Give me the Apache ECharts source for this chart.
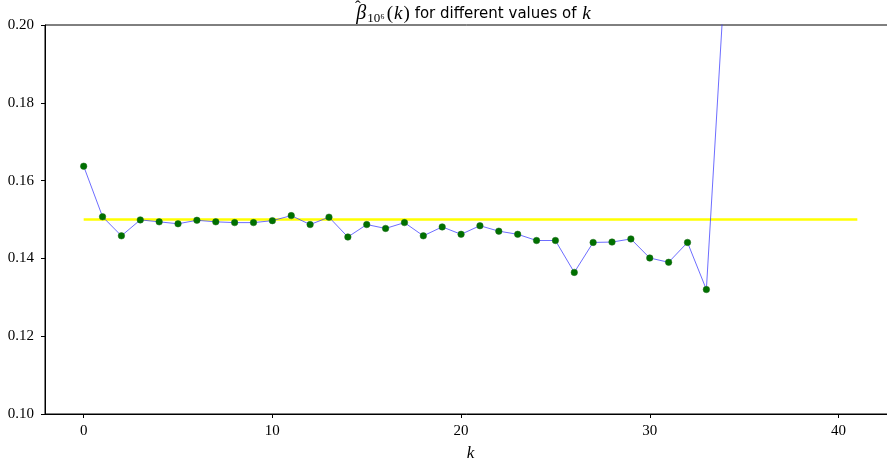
<!DOCTYPE html>
<html>
<head>
<meta charset="utf-8">
<script src="https://cdn.jsdelivr.net/npm/echarts@6/dist/echarts.min.js"></script>
<style>html,body{margin:0;padding:0;background:#fff}#c{width:887px;height:465px}</style>
</head>
<body>
<div id="c"></div>
<script>
var kValues = [0,1,2,3,4,5,6,7,8,9,10,11,12,13,14,15,16,17,18,19,20,21,22,23,24,25,26,27,28,29,30,31,32,33,34];
var betaValues = [0.1637,0.1507,0.1458,0.1499,0.1494,0.1489,0.1498,0.1494,0.1492,0.1492,0.1497,0.1510,0.1487,0.1506,0.1455,0.1487,0.1477,0.1492,0.1458,0.1481,0.1462,0.1484,0.1470,0.1462,0.1446,0.1446,0.1364,0.1441,0.1442,0.1450,0.1401,0.1390,0.1441,0.1320,0.2141];
var refK = [0, 41];
var refValue = [0.15, 0.15];
var xTicks = [0,10,20,30,40];
var yTicks = [0.10,0.12,0.14,0.16,0.18,0.20];

var chart = echarts.init(document.getElementById('c'), null, {renderer:'canvas'});
var serif = 'Liberation Serif';
chart.setOption({
  animation:false,
  backgroundColor:'#fff',
  title:{
    text:'{b|β}{s|10⁶}{p|(}{i|k}{p|)}{t| for different values of }{i|k}',
    left:469, top:-2, textAlign:'center',
    textStyle:{
      fontWeight:'normal',
      rich:{
        b:{fontFamily:serif,fontStyle:'italic',fontWeight:'normal',fontSize:20,color:'#000',padding:[0,1,0,0]},
        s:{fontFamily:serif,fontWeight:'normal',fontSize:13,color:'#000',padding:[9,2,0,0]},
        p:{fontFamily:serif,fontWeight:'normal',fontSize:19,color:'#000'},
        i:{fontFamily:serif,fontStyle:'italic',fontWeight:'normal',fontSize:19,color:'#000',padding:[0,1,0,1]},
        t:{fontFamily:'DejaVu Sans',fontWeight:'normal',fontSize:15,color:'#000'}
      }
    }
  },
  graphic:[{
    type:'text', left:355, top:-1, silent:true,
    style:{text:'ˆ', fontFamily:serif, fontSize:17, fill:'#000'}
  }],
  grid:{left:45, top:25, width:851, bottom:51, outerBoundsMode:'none', containLabel:false, show:true, borderColor:'#000', borderWidth:1, backgroundColor:'transparent'},
  xAxis:{
    type:'value', min:-2.05, max:43.05,
    name:'k', nameLocation:'middle', nameGap:31,
    nameTextStyle:{fontFamily:serif,fontStyle:'italic',fontSize:17,color:'#000'},
    axisLine:{show:true,onZero:false,lineStyle:{color:'#000',width:1}},
    axisTick:{show:true,inside:false,length:4,lineStyle:{color:'#000'},customValues:xTicks},
    axisLabel:{fontFamily:serif,fontSize:15,color:'#000',margin:10,customValues:xTicks},
    splitLine:{show:false}
  },
  yAxis:{
    type:'value', min:0.10, max:0.20,
    axisLine:{show:true,onZero:false,lineStyle:{color:'#000',width:1}},
    axisTick:{show:true,inside:false,length:4,lineStyle:{color:'#000'},customValues:yTicks},
    axisLabel:{fontFamily:serif,fontSize:15,color:'#000',margin:11,customValues:yTicks,
      formatter:function(v){return v.toFixed(2);}},
    splitLine:{show:false}
  },
  series:[
    {
      type:'line', z:1,
      data:refK.map(function(k,i){return [k, refValue[i]];}),
      symbol:'none',
      lineStyle:{color:'#ffff00',width:2.5}
    },
    {
      type:'line', z:2, clip:true,
      data:kValues.map(function(k,i){return [k, betaValues[i]];}),
      symbol:'circle', symbolSize:6.5,
      itemStyle:{color:'#007000',borderColor:'#1a6a1a',borderWidth:0.5},
      lineStyle:{color:'rgba(60,60,255,0.75)',width:1}
    }
  ]
});
</script>
</body>
</html>
